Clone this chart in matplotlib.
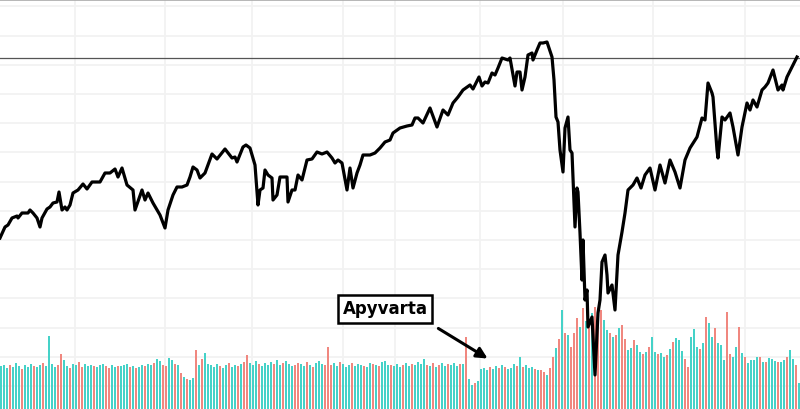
import numpy as np
import matplotlib
matplotlib.use("Agg")
import matplotlib.pyplot as plt

# price trace: (session, index level)
price_points = [
    (0, 171), (5, 182), (8, 184), (12, 191), (17, 193), (18, 191), (22, 196), (28, 196),
    (30, 199), (33, 196), (37, 191), (40, 182), (42, 191), (47, 200), (50, 202), (53, 206),
    (57, 207), (59, 217), (62, 199), (65, 202), (67, 199), (70, 204), (73, 216), (78, 219),
    (83, 225), (87, 220), (92, 227), (100, 227), (105, 236), (110, 236), (115, 240), (118, 232),
    (122, 241), (127, 224), (133, 219), (135, 199), (142, 219), (145, 209), (148, 216), (153, 206),
    (160, 194), (165, 181), (168, 199), (173, 214), (177, 222), (182, 222), (187, 224), (190, 232),
    (193, 242), (197, 239), (200, 231), (205, 236), (212, 255), (217, 250), (225, 260), (232, 251),
    (235, 252), (237, 247), (243, 262), (246, 264), (250, 261), (255, 244), (258, 204), (260, 219),
    (263, 221), (265, 239), (268, 234), (272, 231), (273, 209), (277, 214), (280, 232), (283, 232),
    (287, 232), (288, 207), (292, 219), (295, 219), (298, 234), (302, 229), (307, 249), (312, 250),
    (317, 257), (322, 255), (327, 257), (332, 251), (335, 246), (338, 249), (342, 246), (347, 219),
    (350, 241), (353, 221), (357, 236), (360, 244), (363, 254), (370, 254), (375, 256), (380, 261),
    (385, 267), (390, 269), (393, 276), (400, 281), (407, 283), (412, 284), (415, 291), (418, 291),
    (423, 286), (430, 301), (437, 282), (443, 299), (448, 294), (453, 306), (458, 312), (463, 319),
    (470, 324), (473, 320), (475, 324), (479, 332), (482, 323), (485, 327), (488, 326), (492, 336),
    (495, 334), (498, 341), (502, 351), (505, 350), (508, 349), (510, 351), (513, 334), (515, 323),
    (517, 337), (520, 337), (522, 319), (525, 332), (528, 354), (532, 356), (533, 349), (537, 359),
    (540, 366), (543, 366), (547, 367), (548, 364), (552, 352), (554, 329), (556, 292), (558, 287),
    (560, 259), (563, 237), (565, 281), (568, 292), (570, 259), (572, 256), (575, 182), (577, 221),
    (578, 217), (580, 176), (582, 129), (583, 169), (585, 109), (587, 119), (588, 82), (592, 92),
    (595, 34), (598, 96), (600, 109), (602, 147), (605, 154), (607, 134), (608, 116), (612, 124),
    (615, 99), (618, 154), (622, 177), (625, 196), (628, 219), (633, 224), (637, 231), (641, 221),
    (645, 234), (650, 241), (655, 219), (660, 244), (665, 226), (670, 249), (675, 237), (680, 221),
    (685, 249), (690, 261), (697, 272), (702, 291), (705, 289), (708, 326), (712, 316), (713, 312),
    (717, 259), (718, 251), (722, 292), (725, 289), (730, 296), (733, 282), (738, 254), (742, 282),
    (747, 306), (750, 299), (753, 309), (757, 302), (762, 319), (765, 322), (768, 326), (773, 339),
    (778, 319), (782, 324), (783, 319), (787, 332), (792, 342), (797, 352),
]
prev_high = 351

# turnover per session, in 100m shares
volume_100m = [
    43, 44, 41, 44, 42, 46, 43, 40, 44, 42,
    45, 43, 42, 44, 46, 43, 73, 45, 42, 44,
    55, 49, 43, 41, 45, 44, 47, 42, 45, 43,
    44, 43, 42, 44, 45, 43, 41, 44, 42, 43,
    43, 44, 45, 42, 43, 41, 42, 44, 43, 45,
    44, 46, 50, 48, 44, 43, 51, 49, 45, 44,
    36, 32, 30, 29, 31, 59, 44, 50, 56, 45,
    44, 42, 45, 43, 41, 44, 46, 42, 44, 43,
    45, 47, 54, 46, 44, 48, 45, 43, 46, 44,
    47, 45, 49, 44, 46, 48, 45, 43, 44, 46,
    45, 43, 47, 44, 42, 46, 48, 45, 44, 62,
    44, 46, 43, 47, 45, 42, 44, 46, 43, 45,
    44, 43, 42, 46, 45, 44, 43, 47, 48, 44,
    44, 43, 45, 42, 44, 46, 43, 45, 44, 47,
    45, 50, 44, 43, 46, 42, 44, 46, 43, 45,
    44, 46, 43, 45, 45, 72, 30, 24, 26, 28,
    40, 41, 39, 42, 40, 43, 41, 44, 42, 40,
    41, 45, 43, 52, 42, 44, 41, 42, 40, 39,
    39, 37, 34, 41, 52, 61, 70, 99, 76, 74,
    62, 76, 91, 82, 101, 88, 87, 96, 102, 92,
    99, 89, 79, 76, 72, 74, 81, 84, 70, 59,
    61, 69, 64, 57, 55, 57, 62, 72, 57, 55,
    56, 52, 54, 60, 67, 71, 69, 58, 50, 42,
    72, 80, 62, 60, 66, 92, 86, 72, 81, 66,
    64, 49, 97, 55, 52, 62, 82, 56, 52, 46,
    49, 49, 52, 52, 47, 47, 51, 50, 48, 47,
    47, 49, 52, 59, 50, 44, 26,
]
# g = up session, r = down session
direction = (
    "gggrgggrgg" "grggrggggr" "rggrggrrgg" "grgggrrggr" "gggrgrggrg"
    "grggrrggrg" "rgrggrgrgg" "gggrggrggr" "grrgggrggg" "grggrgggrr"
    "ggrgrgggrr" "rggrgggrgg" "grggrgrggg" "rgggrggrgg" "ggrgrgrggr"
    "gggrgrggrg" "gggrggrgrg" "ggrgrgggrg" "rrgrrgrgrg" "rrrgrgrgrr"
    "rggrgrgrrg" "grggrgrggr" "ggrgrgggrr" "gggrgrggrg" "ggrrggrgrg"
    "gggrgrgggr" "ggrggrg"
)

grid_x = [75, 165, 252, 343, 395, 480, 563, 653, 745]

day = [p[0] for p in price_points]
level = [p[1] for p in price_points]
bar_x = np.arange(len(volume_100m)) * 3 + 1
bar_c = ['#45d2c8' if d == 'g' else '#f0877f' for d in direction]

fig = plt.figure(figsize=(8, 4.09), dpi=100)
ax = fig.add_axes([0, 0, 1, 1])

ax.bar(bar_x, volume_100m, width=2, color=bar_c, zorder=2, linewidth=0)
ax.plot(day, level, color='black', lw=2.3, zorder=4, solid_joinstyle='round')
ax.axhline(prev_high, color='#555555', lw=0.9, zorder=3)

ax.set_xlim(0, 800)
ax.set_ylim(0, 409)
ax.set_xticks(grid_x)
ax.set_yticks(np.arange(23, 409, 29.2))
ax.grid(True, color='#f2f2f2', lw=1.3, zorder=0)
ax.set_axisbelow(True)
ax.tick_params(length=0, labelbottom=False, labelleft=False)
for side in ['left', 'right', 'bottom']:
    ax.spines[side].set_visible(False)
ax.spines['top'].set_color('#aaaaaa')
ax.spines['top'].set_linewidth(1.2)

ax.text(385, 100, 'Apyvarta', fontsize=12, fontweight='bold', ha='center', va='center',
        zorder=6, bbox=dict(boxstyle='square,pad=0.28', fc='white', ec='black', lw=1.8))
ax.annotate('', xy=(490, 49), xytext=(436, 82), zorder=6,
            arrowprops=dict(arrowstyle='-|>', color='black', lw=2.2, mutation_scale=16))

fig.savefig('out.png', dpi=100)
